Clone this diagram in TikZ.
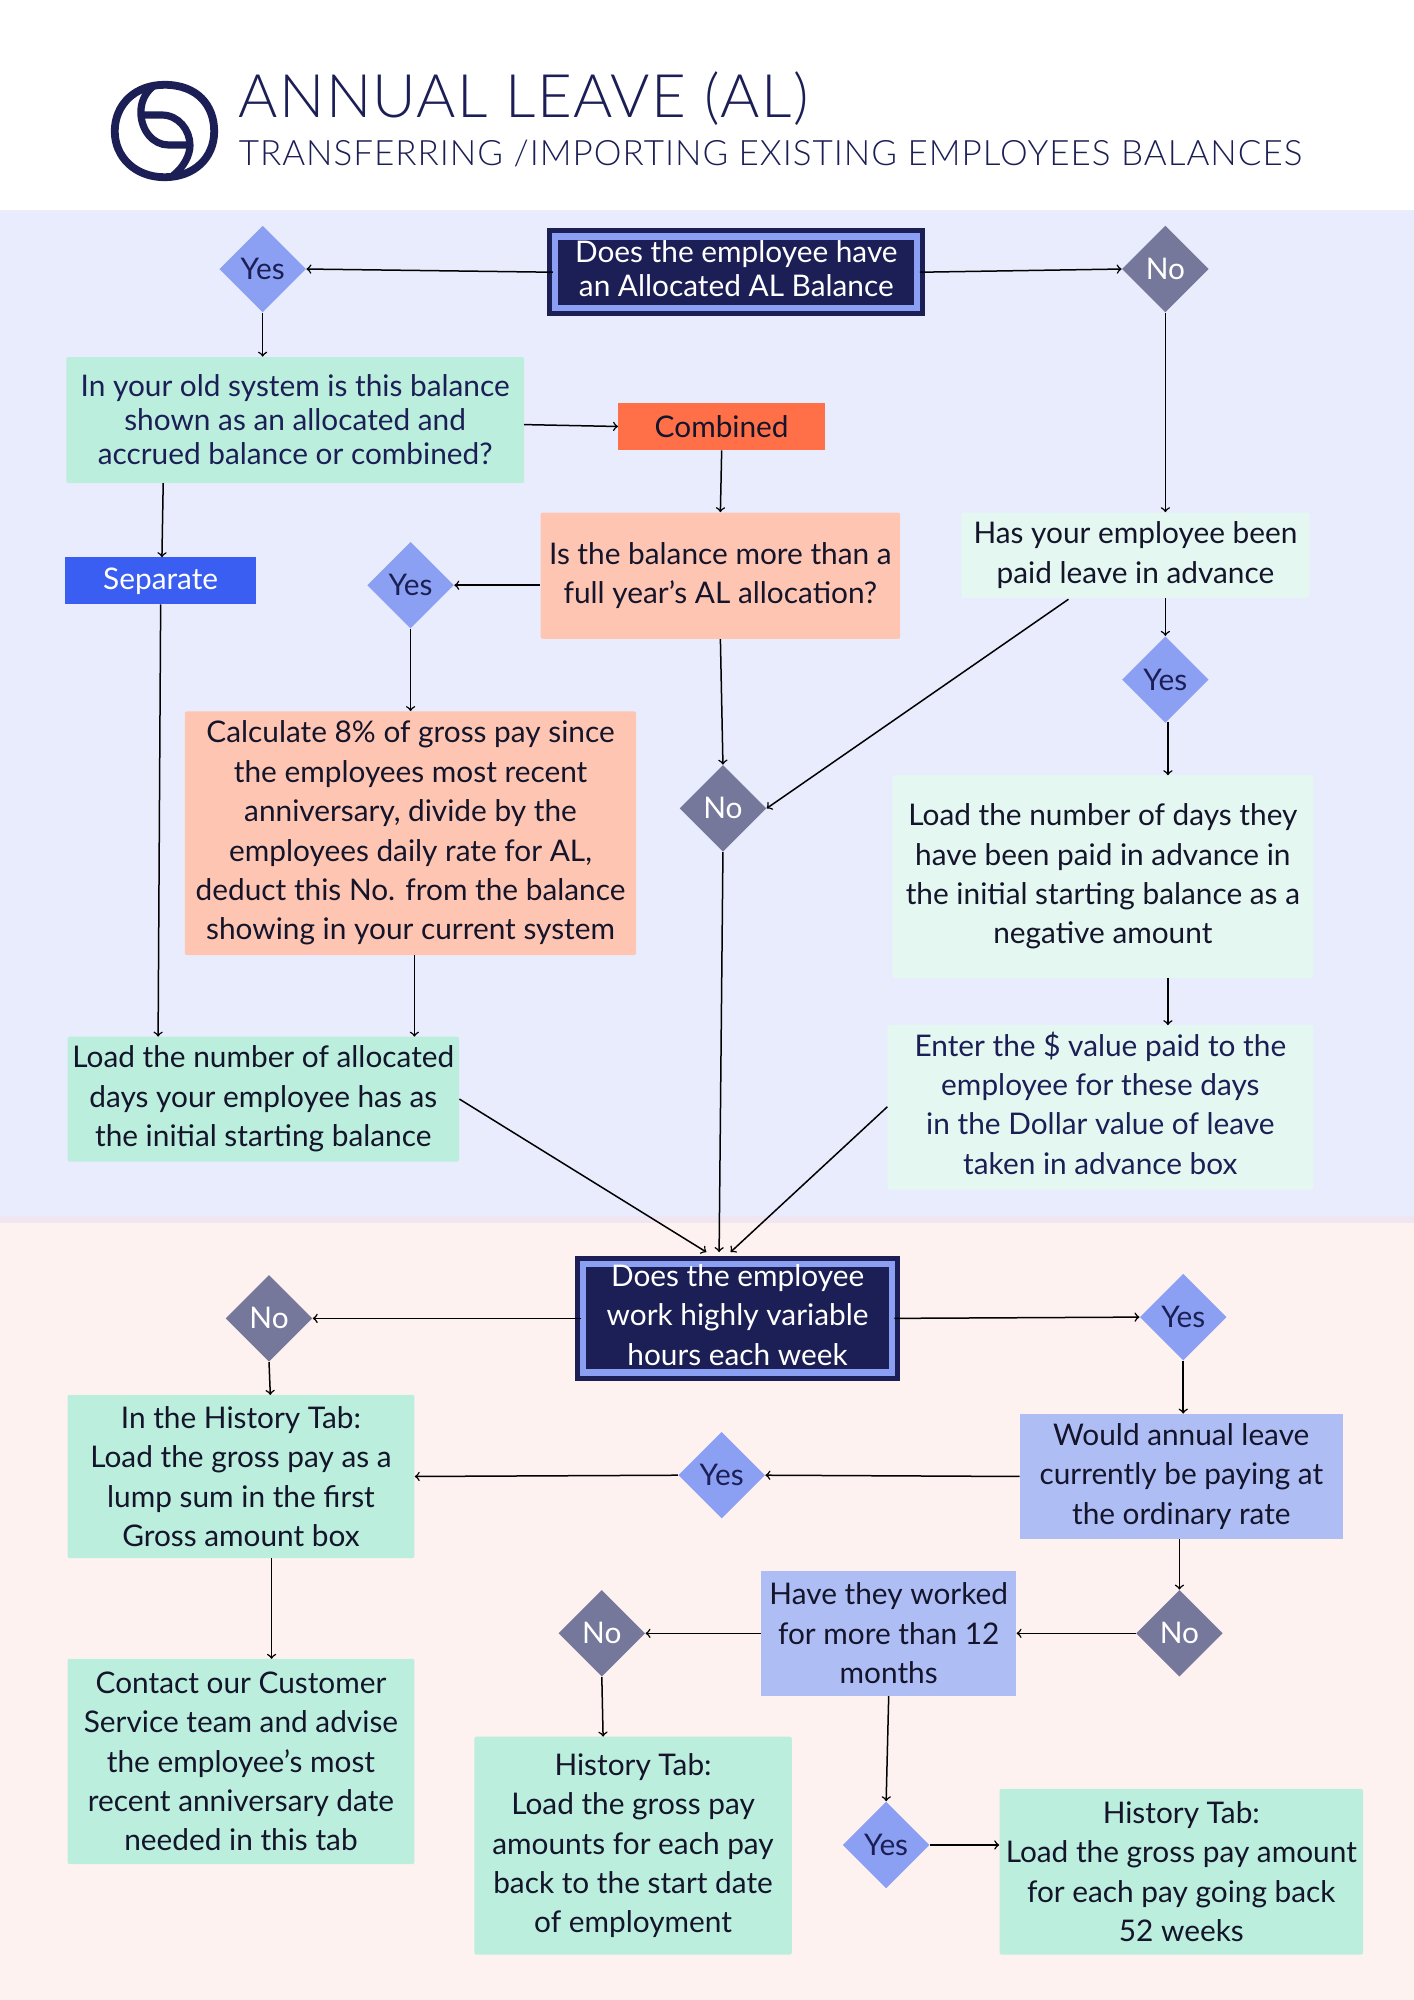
\documentclass[tikz,border=0pt]{standalone}
\usepackage{fontspec}
\setmainfont{Lato}
\newfontfamily\headfont{Lato Light}[LetterSpace=2.2]
\newfontfamily\subheadfont{Lato Light}[LetterSpace=2.8]
\usetikzlibrary{shapes.geometric}
\definecolor{navy}{HTML}{1C1F55}
\definecolor{ink}{HTML}{14142B}
\definecolor{peri}{HTML}{8BA0F3}
\definecolor{slate}{HTML}{75789A}
\definecolor{mint}{HTML}{BBEEDD}
\definecolor{palemint}{HTML}{E4F7F0}
\definecolor{peach}{HTML}{FDC5B2}
\definecolor{lilac}{HTML}{AEBEF5}
\definecolor{flame}{HTML}{FF7048}
\definecolor{royal}{HTML}{3A5EF2}
\definecolor{bandblue}{HTML}{E9ECFD}
\definecolor{bandpink}{HTML}{FEF2F0}
\definecolor{bandline}{HTML}{F0E6F2}
\def\unitpx{0.6375pt}
\tikzset{>=to}
\tikzset{
    flow/.style={->,black,line width=0.75pt},
    sz/.style 2 args={minimum width=#1*\unitpx,minimum height=#2*\unitpx},
    txt/.style={align=center,inner sep=0pt,font=\fontsize{14.9}{19.7}\selectfont,text=ink},
    tight/.style={font=\fontsize{14.9}{17}\selectfont},
    start/.style={txt,fill=navy,draw=navy,line width=2.5pt,double=peri,double distance=3.1pt,
        inner ysep=-5pt,text depth=3.5pt,text=white},
    yesbox/.style={diamond,fill=peri,inner sep=0pt,sz={68}{68},
        font=\fontsize{14.9}{19.7}\selectfont,text=navy},
    nobox/.style={yesbox,fill=slate,text=white},
    greenbox/.style={txt,fill=mint,rounded corners=1pt},
    paleone/.style={txt,fill=palemint,rounded corners=1pt},
    peachbox/.style={txt,fill=peach,rounded corners=1pt},
    lilacbox/.style={txt,fill=lilac},
}

\begin{document}
\begin{tikzpicture}[x=0.6375pt,y=-0.6375pt]
    \useasboundingbox (0,0) rectangle (1109,1568.6);
    % bands
    \fill[white] (0,0) rectangle (1109,165);
    \fill[bandblue] (0,165) rectangle (1109,955);
    \fill[bandpink] (0,955) rectangle (1109,1568.6);
    \fill[bandline] (0,954) rectangle (1109,959);

    % logo
    \draw[navy,line width=3.9pt] (129,66.5) .. controls (155,66.5) and (168,83) .. (168,103)
        .. controls (168,124) and (152,139) .. (129,139)
        .. controls (106,139) and (90,123) .. (90,103)
        .. controls (90,82) and (106,66.5) .. (129,66.5);
    \draw[navy,line width=3.6pt] (121,67) .. controls (113,73) and (110.5,81) .. (110.5,88)
        .. controls (110.5,102) and (120,113.7) .. (132,113.7) -- (150,113.7);
    \draw[navy,line width=3.6pt] (110.5,90.2) -- (126.8,90.2) .. controls (140,90.2) and (149,102) .. (149,114)
        .. controls (149,122) and (144,131) .. (136,137.5);

    % title
    \node[inner sep=0pt,anchor=base west,text=navy,font=\headfont\fontsize{30}{36}\selectfont] (title) at (187,92) {ANNUAL LEAVE (AL)};
    \node[inner sep=0pt,anchor=base west,text=navy,font=\subheadfont\fontsize{17.5}{21}\selectfont] (subtitle) at (187,130) {TRANSFERRING /IMPORTING EXISTING EMPLOYEES BALANCES};

    % upper half
    \node[start,tight,sz={284}{56}] (askbalance) at (577.5,213.5) {Does the employee have\\an Allocated AL Balance};
    \node[yesbox] (yestop) at (206,211) {Yes};
    \node[nobox] (notop) at (914,211) {No};
    \node[greenbox,tight,sz={359}{99},text=navy] (oldsystem) at (231.5,329.5) {In your old system is this balance\\shown as an allocated and\\accrued balance or combined?};
    \node[txt,fill=flame,sz={162}{37}] (combined) at (566,334.5) {Combined};
    \node[txt,fill=royal,text=white,sz={150}{37}] (separate) at (126,455.5) {Separate};
    \node[peachbox,sz={282}{99}] (morethan) at (565,451.5) {Is the balance more than a\\full year’s AL allocation?};
    \node[paleone,sz={273}{67}] (inadvance) at (890.5,435.5) {Has your employee been\\paid leave in advance};
    \node[yesbox] (yesfull) at (322,459) {Yes};
    \node[yesbox] (yesadv) at (914,533) {Yes};
    \node[nobox] (nomid) at (567,634) {No};
    \node[peachbox,sz={354}{191}] (calc) at (322,653.5) {Calculate 8\% of gross pay since\\the employees most recent\\anniversary, divide by the\\employees daily rate for AL,\\deduct this No. from the balance\\showing in your current system};
    \node[paleone,sz={330}{159}] (loaddays) at (865,687.5) {Load the number of days they\\have been paid in advance in\\the initial starting balance as a\\negative amount};
    \node[paleone,sz={334}{129},text=navy,text depth=4.4pt] (enterval) at (863,868.5) {Enter the \$ value paid to the\\employee for these days\\in the Dollar value of leave\\taken in advance box};
    \node[greenbox,sz={307}{98}] (loadalloc) at (206.5,862) {Load the number of allocated\\days your employee has as\\the initial starting balance};

    % lower half
    \node[start,sz={242}{85}] (askhours) at (578.5,1034) {Does the employee\\work highly variable\\hours each week};
    \node[nobox] (nohours) at (211,1034) {No};
    \node[yesbox] (yeshours) at (928,1033) {Yes};
    \node[greenbox,sz={272}{128}] (histlump) at (189,1158) {In the History Tab:\\Load the gross pay as a\\lump sum in the first\\Gross amount box};
    \node[yesbox] (yesrate) at (566,1157) {Yes};
    \node[lilacbox,sz={253}{98}] (ordinary) at (926.5,1158) {Would annual leave\\currently be paying at\\the ordinary rate};
    \node[nobox] (norate) at (925,1281) {No};
    \node[nobox] (notwelve) at (472,1281) {No};
    \node[lilacbox,sz={200}{98}] (twelve) at (697,1281) {Have they worked\\for more than 12\\months};
    \node[greenbox,sz={272}{161}] (contact) at (189,1381.5) {Contact our Customer\\Service team and advise\\the employee’s most\\recent anniversary date\\needed in this tab};
    \node[greenbox,sz={249}{171}] (histstart) at (496.5,1447.5) {History Tab:\\Load the gross pay\\amounts for each pay\\back to the start date\\of employment};
    \node[yesbox] (yestwelve) at (695,1447) {Yes};
    \node[greenbox,sz={285}{130}] (histweeks) at (926.5,1468) {History Tab:\\Load the gross pay amount\\for each pay going back\\52 weeks};

    % connector ends off the middle of a side
    \coordinate (oldright) at (411,333);
    \coordinate (oldbottom) at (128,379);
    \coordinate (sepin) at (127,437);
    \coordinate (sepout) at (126,474);
    \coordinate (allocin) at (124,813);
    \coordinate (calcout) at (325,749);
    \coordinate (allocin2) at (325,813);
    \coordinate (advleft) at (838,470);
    \coordinate (advright) at (914,469);
    \coordinate (yesadvout) at (916,566);
    \coordinate (daysin) at (916,608);
    \coordinate (daysout) at (916,767);
    \coordinate (enterin) at (916,804);
    \coordinate (enterleft) at (696,868);
    \coordinate (hoursleft) at (554,982);
    \coordinate (hourstop) at (564,982);
    \coordinate (hoursright) at (573,982);
    \coordinate (histtop) at (212,1094);
    \coordinate (histout) at (213,1222);
    \coordinate (contactin) at (213,1301);
    \coordinate (histstartin) at (473,1362);

    \draw[flow] (askbalance.west) -- (yestop.east);
    \draw[flow] (askbalance.east) -- (notop.west);
    \draw[flow] (yestop.south) -- (yestop.south |- oldsystem.north);
    \draw[flow] (notop.south) -- (inadvance.north -| notop.south);
    \draw[flow] (oldright) -- (combined.west);
    \draw[flow] (oldbottom) -- (sepin);
    \draw[flow] (sepout) -- (allocin);
    \draw[flow] (combined.south) -- (morethan.north);
    \draw[flow] (yesfull.east -| morethan.west) -- (yesfull.east);
    \draw[flow] (yesfull.south) -- (calc.north);
    \draw[flow] (morethan.south) -- (nomid.north);
    \draw[flow] (advleft) -- (nomid.east);
    \draw[flow] (advright) -- (yesadv.north);
    \draw[flow] (yesadvout) -- (daysin);
    \draw[flow] (daysout) -- (enterin);
    \draw[flow] (calcout) -- (allocin2);
    \draw[flow] (loadalloc.east) -- (hoursleft);
    \draw[flow] (nomid.south) -- (hourstop);
    \draw[flow] (enterleft) -- (hoursright);

    \draw[flow] (askhours.west) -- (nohours.east);
    \draw[flow] (askhours.east) -- (yeshours.west);
    \draw[flow] (nohours.south) -- (histtop);
    \draw[flow] (yeshours.south) -- (ordinary.north -| yeshours.south);
    \draw[flow] (ordinary.west) -- (yesrate.east);
    \draw[flow] (yesrate.west) -- (histlump.east);
    \draw[flow] (ordinary.south -| norate.north) -- (norate.north);
    \draw[flow] (norate.west) -- (twelve.east);
    \draw[flow] (twelve.west) -- (notwelve.east);
    \draw[flow] (notwelve.south) -- (histstartin);
    \draw[flow] (twelve.south) -- (yestwelve.north);
    \draw[flow] (yestwelve.east) -- (yestwelve.east -| histweeks.west);
    \draw[flow] (histout) -- (contactin);
\end{tikzpicture}
\end{document}
